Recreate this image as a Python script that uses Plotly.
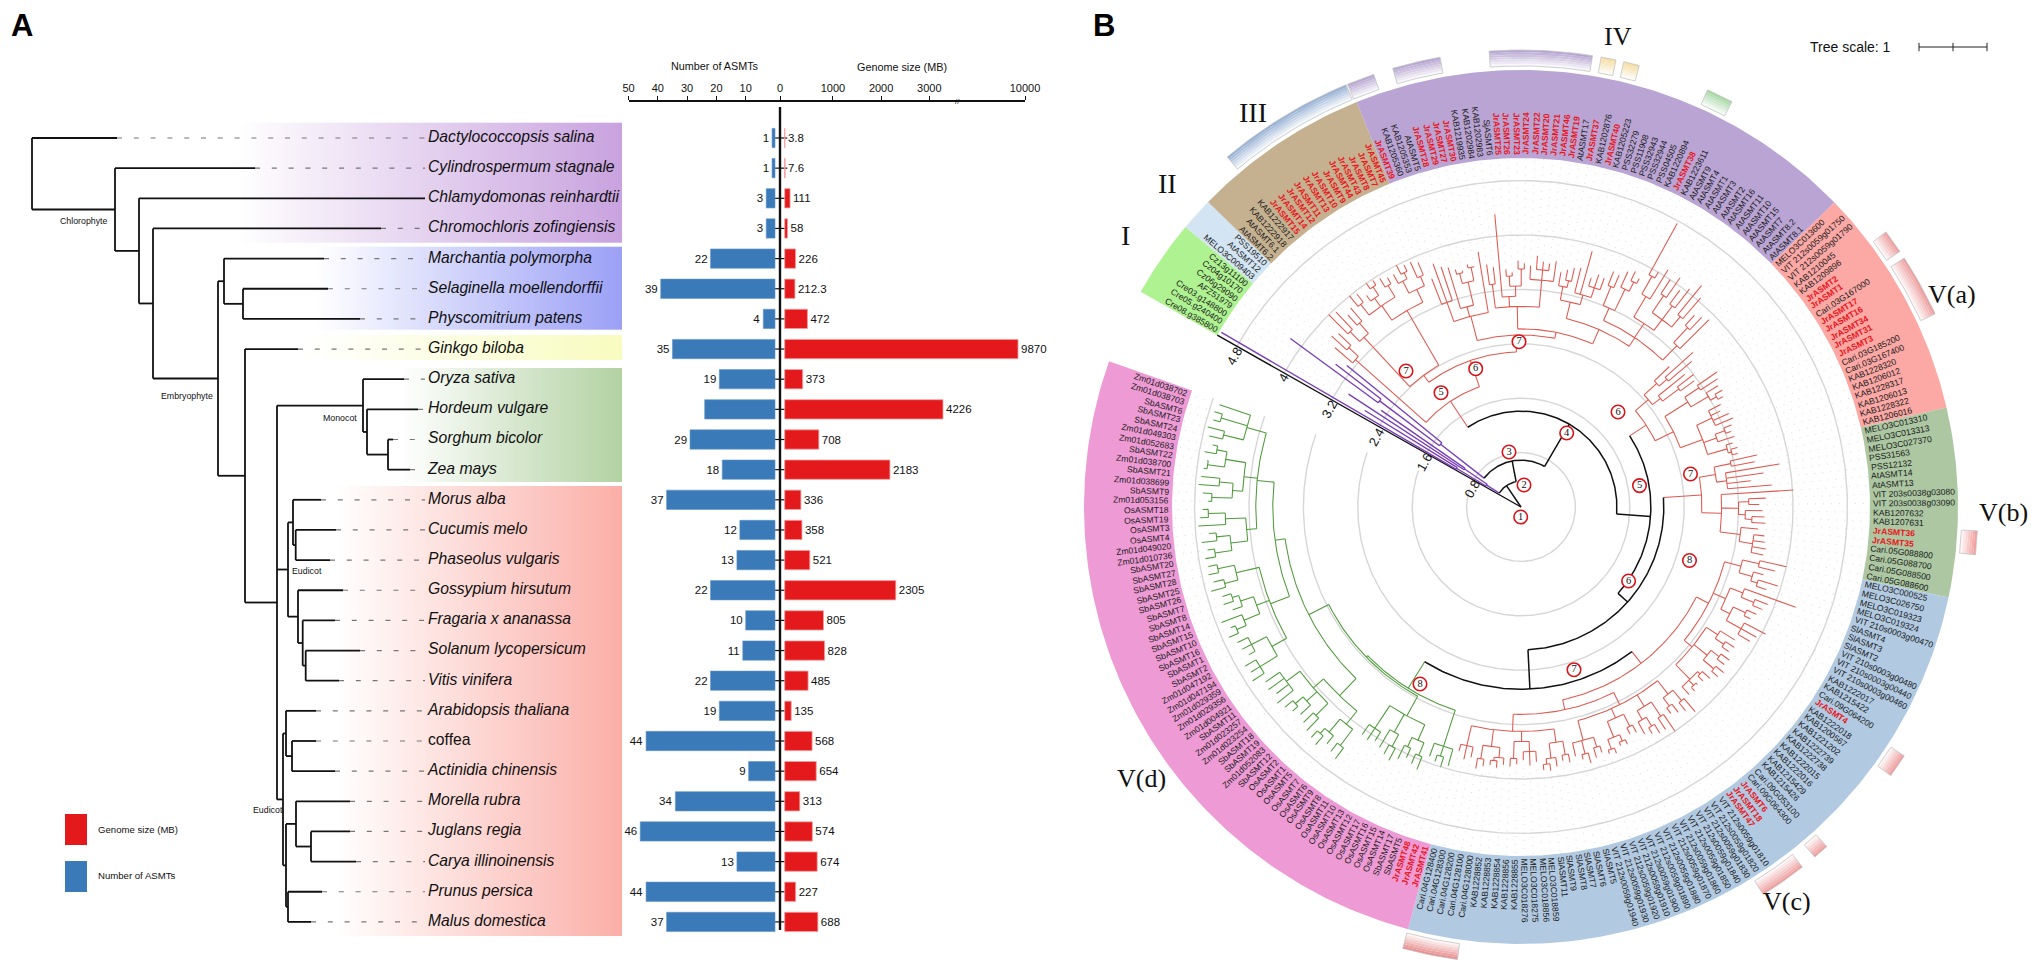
import math
import numpy as np
import plotly.graph_objects as go

W, H = 2033, 962
NARROW = "Liberation Sans, Arial"
SANS = "Liberation Sans, Arial"
SERIF = "Liberation Serif, Times New Roman"

# ---------- Panel A data ----------
species = ["Dactylococcopsis salina", "Cylindrospermum stagnale", "Chlamydomonas reinhardtii",
           "Chromochloris zofingiensis", "Marchantia polymorpha", "Selaginella moellendorffii",
           "Physcomitrium patens", "Ginkgo biloba", "Oryza sativa", "Hordeum vulgare",
           "Sorghum bicolor", "Zea mays", "Morus alba", "Cucumis melo", "Phaseolus vulgaris",
           "Gossypium hirsutum", "Fragaria x ananassa", "Solanum lycopersicum", "Vitis vinifera",
           "Arabidopsis thaliana", "coffea", "Actinidia chinensis", "Morella rubra", "Juglans regia",
           "Carya illinoinensis", "Prunus persica", "Malus domestica"]
asmt_count = [1, 1, 3, 3, 22, 39, 4, 35, 19, 24, 29, 18, 37, 12, 13, 22, 10, 11, 22, 19, 44, 9, 34, 46, 13, 44, 37]
asmt_label = ["1", "1", "3", "3", "22", "39", "4", "35", "19", "", "29", "18", "37", "12", "13", "22", "10",
              "11", "22", "19", "44", "9", "34", "46", "13", "44", "37"]
genome_size = [3.8, 7.6, 111, 58, 226, 212.3, 472, 9870, 373, 4226, 708, 2183, 336, 358, 521, 2305, 805, 828,
               485, 135, 568, 654, 313, 574, 674, 227, 688]
count_ticks = [50, 40, 30, 20, 10]
genome_ticks = [1000, 2000, 3000, 10000]

# species tree: [branch depth of the node, children...]; a float is the depth of a leaf
mono = [363, 404.0, [367, 418.0, [388, 393.0, 410.0]]]
eudicot1 = [288, [293, 321.0, [295.7, 336.0, 330.0]],
            [298, 343.0, [302.7, 335.0, [305.7, 360.0, 339.0]]]]
eudicot2 = [283, [286, 316.0, [292, 316.0, 335.0]],
            [286, [296, 350.0, [311, 350.0, 356.0]], [288, 322.0, 311.0]]]
species_tree = [32, 117.0, [115, 255.0, [139, 425.0, [153, 381.0, [218,
                [224, 324.0, [243, 328.0, 360.0]],
                [245, 298.0, [277, mono, eudicot1, eudicot2]]]]]]]

# ---------- Panel B data ----------
group_I = ["Cre08.g385800", "Cre05.g240400", "Cre03.g148800", "AFZ51979", "Cz06g29090", "Cz04g10170", "Cz13g11100"]
group_II = ["MELO3C009403", "AtASMT12", "PSS19510"]
group_III = ["AtASMT6.2", "AtASMT6.1", "KAB1222918", "KAB1222917", "JrASMT15", "JrASMT14", "JrASMT12", "JrASMT11",
             "JrASMT13", "JrASMT10", "JrASMT9", "JrASMT44", "JrASMT43", "JrASMT8", "JrASMT7", "JrASMT45"]
group_IV = ["JrASMT39", "KAB1205360", "KAB1205353", "AtASMT5", "JrASMT28", "JrASMT29", "JrASMT27", "JrASMT30",
            "KAB1219935", "KAB1202984", "KAB1202983", "SjASMT6", "JrASMT25", "JrASMT26", "JrASMT23", "JrASMT24",
            "JrASMT22", "JrASMT20", "JrASMT21", "JrASMT46", "JrASMT19", "AtASMT17", "JrASMT37", "KAB1202876",
            "JrASMT40", "KAB1205223", "PSS32279", "PSS11908", "PSS32943", "PSS32944", "PSS04505", "KAB1220894",
            "JrASMT38", "KAB1223611", "AtASMT9", "AtASMT4", "AtASMT1", "AtASMT3", "AtASMT2", "AtASMT16", "AtASMT11",
            "AtASMT10", "AtASMT15", "AtASMT7", "AtASMT8.2", "AtASMT8.1"]
group_Va = ["MELO3C013600", "VIT 212s0059g01750", "VIT 212s0059g01790", "KAB1210045", "KAB1209896", "JrASMT2",
            "JrASMT1", "Cari.03G167000", "JrASMT17", "JrASMT16", "JrASMT34", "JrASMT31", "JrASMT3", "Cari.03G185200",
            "Cari.03G167400", "KAB1228320", "KAB1206012", "KAB1228317", "KAB1206013", "KAB1228322", "KAB1206016"]
group_Vb = ["MELO3C013310", "MELO3C013313", "MELO3C027370", "PSS31563", "PSS12132", "AtASMT14", "AtASMT13",
            "VIT 203s0038g03080", "VIT 203s0038g03090", "KAB1207632", "KAB1207631", "JrASMT36", "JrASMT35",
            "Cari.05G088800", "Cari.05G088700", "Cari.05G088500", "Cari.05G088600"]
group_Vc = ["MELO3C000525", "MELO3C026750", "MELO3C019323", "MELO3C019324", "VIT 210s0003g00470", "SlASMT4", "SlASMT3",
            "SlASMT2", "VIT 210s0003g00480", "VIT 210s0003g00440", "VIT 210s0003g00460", "KAB1222017", "KAB1215422",
            "Cari.09G064200", "JrASMT4", "KAB1222018", "KAB1200567", "KAB1221202", "KAB1222739", "KAB1222738",
            "KAB1222015", "KAB1222016", "KAB1215429", "KAB1215426", "Cari.09G053100", "Cari.09G064300", "JrASMT6",
            "JrASMT18", "JrASMT47", "VIT 212s0059g01810", "VIT 212s0059g01820", "VIT 212s0059g01830",
            "VIT 212s0059g01840", "VIT 212s0059g01850", "VIT 212s0059g01860", "VIT 212s0059g01870",
            "VIT 212s0059g01880", "VIT 212s0059g01890", "VIT 212s0059g01900", "VIT 212s0059g01910",
            "VIT 212s0059g01920", "VIT 212s0059g01930", "VIT 212s0059g01940", "SlASMT5", "SlASMT6", "SlASMT7",
            "SlASMT8", "SlASMT9", "SlASMT11", "MELO3C018859", "MELO3C018856", "MELO3C018275", "MELO3C018276",
            "KAB1228855", "KAB1228856", "KAB1228854", "KAB1228853", "KAB1228852", "Cari.04G128000", "Cari.04G128100",
            "Cari.04G128200", "Cari.04G128300", "Cari.04G128400"]
group_Vd = ["JrASMT41", "JrASMT42", "JrASMT48", "SbASMT5", "SbASMT17", "OsASMT14", "OsASMT15", "OsASMT16", "OsASMT17",
            "OsASMT12", "OsASMT13", "OsASMT10", "OsASMT11", "OsASMT8", "OsASMT9", "OsASMT6", "OsASMT7", "OsASMT5",
            "OsASMT1", "OsASMT2", "SbASMT12", "Zm01d052083", "SbASMT19", "SbASMT18", "Zm01d023254", "Zm01d023257",
            "SbASMT11", "Zm01d004921", "Zm01d029356", "Zm01d029359", "Zm01d047194", "Zm01d047192", "SbASMT2", "SbASMT1",
            "SbASMT16", "SbASMT10", "SbASMT15", "SbASMT14", "SbASMT8", "SbASMT7", "SbASMT26", "SbASMT25", "SbASMT28",
            "SbASMT27", "SbASMT20", "Zm01d010736", "Zm01d049020", "OsASMT4", "OsASMT3", "OsASMT19", "OsASMT18",
            "Zm01d053156", "SbASMT9", "Zm01d038699", "SbASMT21", "Zm01d038700", "SbASMT22", "Zm01d052683",
            "Zm01d049303", "SbASMT24", "SbASMT23", "SbASMT6", "Zm01d038703", "Zm01d038702"]
groups = [group_I, group_II, group_III, group_IV, group_Va, group_Vb, group_Vc, group_Vd]
group_colors = ["#aff291", "#d3e4f3", "#c5b190", "#b9a4d4", "#fca8a5", "#acc7a2", "#b1c9e1", "#ee9bd5"]
ring_values = [0.8, 1.6, 2.4, 3.2, 4.0, 4.8]

PURPLE, RED, GREEN, BLACK = "#7a3fb8", "#e0584e", "#4e9a3a", "#111111"
clade_Ia = (PURPLE, [0.6, [1.1, 5.1, 2.7], [1.0, 3.03, 2.5]])
clade_Ib = (PURPLE, [1.5, [2.6, 4.2, 3.44], 3.3])
clade_II = [3.26, 3.6, [3.45, 3.75, 3.7]]
clade_III = [2.41, [3.4, [3.6, 4.0, 3.95], [3.6, 3.8, 3.85]],
             [3.34, [3.6, [3.8, 4.0, 3.95], [3.75, 3.85, [3.9, 4.0, 3.98]], [3.8, 3.95, 3.9]],
              [3.55, [3.75, 3.9, [3.85, 4.0, 3.95]], [3.7, 3.95, 3.9]]]]
iv_a = [2.9, [3.2, 3.6, 3.8, 3.72], [3.05, 3.68, [3.4, [3.55, 3.62, 3.58], [3.6, 3.65, 3.6]]], 3.8]
iv_b = [2.95, [3.3, 3.6, 3.55], [3.1, 4.32, [3.25, [3.4, 3.5, 3.45], [3.5, 3.62, 3.58]]],
        [3.35, 3.55, [3.5, 3.7, 3.62, 3.6], 3.65]]
iv_c = [3.1, [3.3, 3.5, [3.4, 3.55, 3.6]], [3.25, 3.62, 3.9, [3.4, 3.52, 3.6, 3.58]]]
iv_d = [3.0, [3.2, [3.5, 3.72, 3.7], [3.55, 3.8, [3.7, 3.85, 3.78]]],
        [3.25, [3.6, [3.9, 4.76, 4.0], 4.1], [3.45, [3.75, 4.0, 4.1], [3.7, 3.95, 4.05], [3.65, 4.2, 4.05]]],
        [3.3, [3.6, 3.8, 3.85], 3.9]]
clade_IV = [2.53, iv_a, [2.62, iv_b, [2.85, iv_c, iv_d]]]
clade_Va = (RED, [2.2, [2.45, [2.7, 3.0, [2.85, 3.4, 3.3]], [2.6, 3.1, [2.9, 3.2, 3.15]]],
                  [2.5, [2.9, [3.15, 3.5, 3.45], [3.2, 3.4, [3.3, 3.42, 3.38]]],
                   [2.85, [3.1, 3.3, 3.25, 3.35, 3.38], [3.05, [3.2, 3.32, 3.28], 3.3],
                    [3.15, 3.25, [3.2, 3.3, 3.28]]]]])
clade_Vb = (RED, [2.66, [2.9, [3.15, 3.55, 3.5], [3.05, 3.85, 3.6, 3.4, 3.7]],
                  [2.95, 4.01, [3.2, [3.35, 3.6, 3.5], [3.3, 3.55, [3.4, 3.58, 3.6]]],
                   [3.25, 3.5, [3.45, 3.6, 3.62, 3.65, 3.63]]]])
vc_a = [3.1, [3.35, [3.6, 4.0, 3.85], [3.55, 3.7, [3.65, 3.95, 3.8]]],
        [3.3, [3.5, 4.3, [3.7, 3.9, 3.85]], [3.45, [3.65, 3.8, 3.75], [3.7, 4.05, 3.95, 3.9]]],
        [3.25, [3.45, 3.7, [3.6, 3.75, 3.72]], [3.5, [3.65, 3.8, 3.78], [3.7, 3.85, 3.82]],
         [3.55, [3.6, 3.75, 3.7], [3.65, 3.68, 3.72], 3.7]]]
vc_b = [3.25, [3.5, [3.7, 3.95, 3.85], [3.65, 3.8, 3.75]], [3.45, [3.7, 4.0, 3.9], [3.6, [3.75, 3.9, 3.85], 3.8]],
        [3.4, [3.6, 3.72, 3.7], [3.65, [3.75, 3.82, 3.8], [3.8, 3.88, 3.85]]],
        [3.55, [3.7, 3.8, 3.85], [3.75, 3.9, 3.82], 3.75]]
vc_c = [3.3, [3.5, [3.7, 3.82, 3.78], [3.72, 3.85, [3.8, 3.9, 3.88]]], [3.45, [3.6, 3.75, 3.8, 3.72], [3.7, 3.78, 3.82]],
        [3.55, [3.7, 3.8, [3.75, 3.85, 3.82]], [3.75, 3.85, 3.9]], [3.6, 3.75, 3.8, 3.7]]
clade_Vc = (RED, [2.9, vc_a, [3.05, vc_b, vc_c]])
vd_a = [3.7, 3.95, [3.85, 4.0, 3.95], 3.9]
vd_b = [3.5, [3.75, [3.95, 4.15, 4.1], [3.9, 4.05, 4.12]], [3.8, [4.0, 4.2, 4.15], 4.1], [3.9, 4.05, 4.1, 4.08]]
vd_c = [3.85, [4.1, [4.4, 4.6, 4.55], [4.35, 4.5, [4.45, 4.62, 4.58]]],
        [4.05, [4.3, 4.55, 4.5], [4.25, 4.45, [4.4, 4.5, 4.55]], [4.3, 4.6, 4.52, 4.58, 4.55]]]
vd_d = [3.95, [4.2, [4.5, 4.7, 4.65, 4.68], [4.45, 4.55, 4.6, 4.62]],
        [4.15, [4.4, [4.55, 4.7, 4.62], 4.72], [4.35, 4.5, [4.45, 4.6, 4.58]]],
        [4.3, [4.5, 4.72, 4.65], [4.55, 4.7, 4.68]]]
vd_e = [3.9, [4.05, [4.3, [4.55, 4.7, 4.65], [4.5, 4.72, 4.6]], [4.35, 4.75, [4.6, 4.72, 4.68]]],
        [4.1, [4.25, [4.55, 4.6, 4.68], [4.45, 4.75, 4.72]], [4.4, [4.65, 4.7, 4.66], [4.55, 4.72, 4.62]]],
        [4.2, [4.5, 4.7, 4.75], [4.6, 4.7, 4.72], 4.68]]
clade_Vd = (GREEN, [3.14, vd_a, [3.17, vd_b, [3.5, vd_c, [3.65, vd_d, vd_e]]]])
gene_tree = [0.38, clade_Ia, [0.69, clade_Ib, [1.41,
             (RED, [1.87, clade_II, [2.28, clade_III, clade_IV]]),
             [1.91, clade_Va, [2.1, clade_Vb, [2.68, clade_Vc, clade_Vd]]]]]]

# outer annotation strips: start angle, end angle, colour
strips = [(130, 112.5, "#93aed3"), (112.3, 108.8, "#b4a2d0"), (106.3, 100.2, "#b4a2d0"), (94, 81, "#b4a2d0"),
          (79.9, 78, "#f5dca0"), (77, 75, "#f5dca0"), (65.9, 62.5, "#a3d6a0"), (37, 34, "#ee9a9a"), (33, 25, "#ee9a9a"),
          (-3, -6, "#f29a9a"), (-33, -36, "#ee9a9a"), (-48, -50, "#ee9a9a"), (-52, -58, "#ee9a9a"), (-98, -105, "#e88a8a")]

# ---------- scales ----------
ROW0, ROWSTEP = 138.0, 30.15
def row_of(py):
    return (py - ROW0) / ROWSTEP

CX, CY, UNIT = 1521.0, 507.0, 68.0
def ux(px):
    return (px - CX) / UNIT
def uy(py):
    return (CY - py) / UNIT
def polar(r, deg):
    a = math.radians(deg)
    return r * math.cos(a), r * math.sin(a)

BR_IN = [0, 3000, 4226, 9870, 10000]
BR_OUT = [0, 3000, 3284, 4840, 4985]
def genome_scale(v):
    return np.interp(v, BR_IN, BR_OUT)

fig = go.Figure()
annos = []
def note(text, px, py, size, family=NARROW, color="#111", angle=0, xanchor="center", bold=False):
    annos.append(dict(text=f"<b>{text}</b>" if bold else text, x=px, y=row_of(py), xref="x", yref="y",
                      showarrow=False, textangle=angle, xanchor=xanchor, yanchor="middle",
                      font=dict(size=size, family=family, color=color), borderpad=0))

# ---------- Panel A gradient bands ----------
bands = [(235, 122.7, 242.3, "#c9a3df"), (315, 246.7, 330, "#9ca1f6"), (300, 335, 360, "#f8fcc0"),
         (400, 368, 481.7, "#b3d2a3"), (335, 486, 936, "#fbafa8")]
for x0, top, bot, col in bands:
    n = 110
    edges = np.linspace(x0, 621.7, n + 1)
    fig.add_trace(go.Heatmap(x=edges, y=[row_of(top), row_of(bot)], z=[list(np.linspace(0, 1, n))],
                             colorscale=[[0, "#ffffff"], [1, col]], zmin=0, zmax=1, showscale=False, hoverinfo="skip"))

# ---------- Panel A tree ----------
tx, ty, dx, dy = [], [], [], []
leaf_i = [0]
def draw_species(node, parent_x):
    if isinstance(node, float):
        y = leaf_i[0]
        leaf_i[0] += 1
        tx.extend([parent_x, node, None]); ty.extend([y, y, None])
        if node < 424:
            dx.extend([node, 425, None]); dy.extend([y, y, None])
        return y
    x = node[0]
    ys = [draw_species(c, x) for c in node[1:]]
    tx.extend([x, x, None]); ty.extend([ys[0], ys[-1], None])
    mid = (ys[0] + ys[-1]) / 2
    if parent_x is not None:
        tx.extend([parent_x, x, None]); ty.extend([mid, mid, None])
    return mid
draw_species(species_tree, None)
fig.add_trace(go.Scatter(x=dx, y=dy, mode="lines", line=dict(color="#777", width=1.2, dash="5px,11.8px"), hoverinfo="skip"))
fig.add_trace(go.Scatter(x=tx, y=ty, mode="lines", line=dict(color="#111", width=1.8), hoverinfo="skip"))
rows = list(range(len(species)))
fig.add_trace(go.Scatter(x=[428] * len(species), y=rows, mode="text", text=species, textposition="middle right",
                         textfont=dict(size=15.7, family=NARROW, color="#111",
                                       style=["normal" if s == "coffea" else "italic" for s in species]),
                         hoverinfo="skip"))
for t, px, py in [("Chlorophyte", 84, 221), ("Embryophyte", 187, 396), ("Monocot", 340, 418),
                  ("Eudicot", 307, 571), ("Eudicot", 268, 810)]:
    note(t, px, py, 8.8)

# central axis with row ticks
fig.add_trace(go.Scatter(x=[780, 780], y=[row_of(107), row_of(930)], mode="lines", line=dict(color="#111", width=2.4), hoverinfo="skip"))
fig.add_trace(go.Scatter(x=[781] * len(rows), y=rows, mode="markers",
                         marker=dict(symbol="line-ew", size=9, line=dict(color="#111", width=1.2)), hoverinfo="skip"))

# ---------- Panel A bars ----------
fig.add_trace(go.Bar(y=rows, x=asmt_count, orientation="h", xaxis="x2", yaxis="y", width=0.64,
                     marker=dict(color="#3a7ab8", line=dict(color="#5f96c8", width=0.6)), text=asmt_label,
                     textposition="outside", textangle=0, constraintext="none", cliponaxis=False,
                     textfont=dict(size=11.5, family=NARROW, color="#111"), hoverinfo="skip"))
fig.add_trace(go.Bar(y=rows, x=genome_scale(genome_size), orientation="h", xaxis="x3", yaxis="y", width=0.64,
                     marker=dict(color="#e3191c", line=dict(color="#f3a0a0", width=0.8)),
                     text=[str(v) for v in genome_size], textposition="outside", textangle=0, constraintext="none",
                     cliponaxis=False, textfont=dict(size=11.5, family=NARROW, color="#111"), hoverinfo="skip"))

note("Number of ASMTs", 715, 66, 10.8)
note("Genome size (MB)", 902, 66.7, 10.8)
note("//", 957, 101, 8)
shapes = [dict(type="rect", xref="x", yref="y", x0=65, x1=87, y0=row_of(814), y1=row_of(845), fillcolor="#e3191c", line_width=0, layer="above"),
          dict(type="rect", xref="x", yref="y", x0=65, x1=87, y0=row_of(861), y1=row_of(892), fillcolor="#3a7ab8", line_width=0, layer="above")]
note("Genome size (MB)", 97, 829, 9.6, xanchor="left")
note("Number of ASMTs", 97, 875, 9.6, xanchor="left")
note("A", 22, 25, 31, family=SANS, bold=True, color="#000")
note("B", 1104, 25, 31, family=SANS, bold=True, color="#000")

# ---------- Panel B geometry ----------
R_IN, R_OUT = 349 / UNIT, 437 / UNIT
START, GAP = 150.5, 10.0
leaves = [name for g in groups for name in g]
N = len(leaves)
STEP = (360.0 - GAP) / N
def leaf_edge(i):
    return START - i * STEP
def leaf_angle(i):
    return START - (i + 0.5) * STEP
def arc_xy(r, a0, a1):
    n = max(2, int(abs(a1 - a0) / 0.8) + 2)
    pts = [polar(r, a) for a in np.linspace(a0, a1, n)]
    return [p[0] for p in pts], [p[1] for p in pts]
def sector(r0, r1, a0, a1, color, line=None, width=0):
    x0, y0 = arc_xy(r1, a0, a1)
    x1, y1 = arc_xy(r0, a1, a0)
    fig.add_trace(go.Scatter(x=x0 + x1 + x0[:1], y=y0 + y1 + y0[:1], mode="lines", fill="toself", fillcolor=color,
                             line=dict(color=line or color, width=width), xaxis="x4", yaxis="y2", hoverinfo="skip"))

i0 = 0
for g, col in zip(groups, group_colors):
    sector(R_IN, R_OUT, leaf_edge(i0), leaf_edge(i0 + len(g)), col)
    i0 += len(g)

def mix(col, t):
    r, g, b = int(col[1:3], 16), int(col[3:5], 16), int(col[5:7], 16)
    return "rgb(%d,%d,%d)" % (255 + (r - 255) * t, 255 + (g - 255) * t, 255 + (b - 255) * t)
S_IN, S_OUT = 441 / UNIT, 457 / UNIT
for a0, a1, col in strips:
    n = 7
    for k in range(n):
        sector(S_IN + (S_OUT - S_IN) * k / n, S_IN + (S_OUT - S_IN) * (k + 1) / n, a0, a1, mix(col, (k + 0.6) / n))
    xa, ya = arc_xy(S_OUT, a0, a1)
    xb, yb = arc_xy(S_IN, a1, a0)
    fig.add_trace(go.Scatter(x=xa + xb + xa[:1], y=ya + yb + ya[:1], mode="lines", line=dict(color="#c4c4c4", width=0.8),
                             xaxis="x4", yaxis="y2", hoverinfo="skip"))

# rings
rx, ry = [], []
for v in ring_values:
    xa, ya = arc_xy(v, START, START - 350)
    rx += xa + [None]; ry += ya + [None]
fig.add_trace(go.Scatter(x=rx, y=ry, mode="lines", line=dict(color="#d6d6d6", width=1.4), xaxis="x4", yaxis="y2", hoverinfo="skip"))
ax_x, ax_y = polar(R_IN, START)
fig.add_trace(go.Scatter(x=[0, ax_x], y=[0, ax_y], mode="lines", line=dict(color="#111", width=1.4), xaxis="x4", yaxis="y2", hoverinfo="skip"))

# tree
segs = {}
leader_x, leader_y = [], []
counter = [0]
def add(color, xs, ys):
    s = segs.setdefault(color, ([], []))
    s[0].extend(list(xs) + [None]); s[1].extend(list(ys) + [None])
def draw_gene(node, parent_r, color):
    if isinstance(node, tuple):
        color, node = node
    if isinstance(node, float):
        a = leaf_angle(counter[0])
        counter[0] += 1
        p0, p1 = polar(parent_r, a), polar(node, a)
        add(color, [p0[0], p1[0]], [p0[1], p1[1]])
        p2 = polar(R_IN, a)
        leader_x.extend([p1[0], p2[0], None]); leader_y.extend([p1[1], p2[1], None])
        return a
    r = node[0]
    angs = [draw_gene(c, r, color) for c in node[1:]]
    xa, ya = arc_xy(r, angs[0], angs[-1])
    add(color, xa, ya)
    a = (angs[0] + angs[-1]) / 2
    p0, p1 = polar(parent_r, a), polar(r, a)
    add(color, [p0[0], p1[0]], [p0[1], p1[1]])
    return a
draw_gene(gene_tree, 0.0, BLACK)
if counter[0] != N:
    raise SystemExit(f"tree leaves {counter[0]} vs labels {N}")
fig.add_trace(go.Scatter(x=leader_x, y=leader_y, mode="lines", line=dict(color="#d8d8d8", width=0.9, dash="1px,7px"),
                         xaxis="x4", yaxis="y2", hoverinfo="skip"))
widths = {BLACK: 1.5, PURPLE: 1.4, RED: 1.05, GREEN: 1.05}
for col, (xs, ys) in segs.items():
    fig.add_trace(go.Scatter(x=xs, y=ys, mode="lines", line=dict(color=col, width=widths[col]), xaxis="x4", yaxis="y2", hoverinfo="skip"))

# leaf labels
CW = {"M": .83, "E": .67, "L": .56, "O": .78, "C": .72, "K": .67, "A": .67, "B": .67, "V": .67, "I": .28, "T": .61, "P": .67,
      "S": .67, "G": .78, "Z": .61, "J": .5, "F": .61, "r": .33, "t": .28, "s": .5, "m": .83, "d": .56, "b": .56, "a": .56,
      "i": .22, "z": .5, "e": .56, "g": .56, "l": .22, "j": .22, " ": .28, ".": .28}
def text_w(s, size, bold):
    return sum(CW.get(c, .556) for c in s) * size * (1.07 if bold else 1.0)
FS = 8.6
for i, name in enumerate(leaves):
    a = leaf_angle(i)
    red = name.startswith("JrASMT")
    w = text_w(name, FS, red)
    cx, cy = polar((352 + w / 2) / UNIT, a)
    norm = (a + 360) % 360
    ta = -a if (norm <= 90 or norm >= 270) else 180 - a
    annos.append(dict(text=f"<b>{name}</b>" if red else name, x=cx, y=cy, xref="x4", yref="y2", showarrow=False, textangle=ta,
                      xanchor="center", yanchor="middle", borderpad=0,
                      font=dict(size=FS, family=SANS, color="#e8161c" if red else "#1a1a1a")))

# ring tick labels
for v, (px, py) in zip(ring_values, [(1471.7, 489), (1424, 462), (1376, 437), (1329, 409), (1283, 378), (1234, 356)]):
    annos.append(dict(text=str(v if v != 4.0 else 4), x=ux(px), y=uy(py), xref="x4", yref="y2", showarrow=False, textangle=-60.5,
                      font=dict(size=13, family=SANS, color="#111")))

# node markers
node_marks = [("1", 1520.7, 517), ("2", 1524, 485), ("3", 1509, 452), ("4", 1566.7, 433), ("5", 1639.5, 485.6), ("6", 1618, 412),
              ("6", 1628.6, 581), ("7", 1574, 669.7), ("7", 1690.5, 474), ("8", 1689.5, 560.5), ("8", 1420, 684), ("5", 1441, 392.7),
              ("6", 1475.7, 368.7), ("7", 1519, 341.7), ("7", 1406, 371)]
fig.add_trace(go.Scatter(x=[ux(m[1]) for m in node_marks], y=[uy(m[2]) for m in node_marks], mode="markers+text",
                         text=[m[0] for m in node_marks], textposition="middle center",
                         textfont=dict(size=10.5, family=SERIF, color="#111"),
                         marker=dict(size=13.5, color="white", line=dict(color="#d8141a", width=1.6)),
                         xaxis="x4", yaxis="y2", hoverinfo="skip"))

# tree scale
sx0 = ux(1919); sy = uy(47)
fig.add_trace(go.Scatter(x=[sx0, sx0 + 0.5, sx0 + 1], y=[sy] * 3, mode="lines+markers", line=dict(color="#222", width=1),
                         marker=dict(symbol="line-ns", size=6, line=dict(color="#222", width=1)), xaxis="x4", yaxis="y2", hoverinfo="skip"))
note("Tree scale: 1", 1809, 47, 14, family=SANS, xanchor="left")
for t, px, py, sz in [("I", 1125, 235, 28), ("II", 1167, 183, 28), ("III", 1253, 112, 28), ("IV", 1618, 36, 26),
                      ("V(a)", 1952, 294, 26), ("V(b)", 2003, 512, 26), ("V(c)", 1787, 901, 26), ("V(d)", 1141, 778, 26)]:
    note(t, px, py, sz, family=SERIF)

hidden = dict(visible=False, showgrid=False, zeroline=False, fixedrange=True)
ax_top = 1 - 101 / H
tick_font = dict(size=11, family=NARROW, color="#111")
def axis_top(domain, rng, vals, text):
    return dict(domain=domain, range=rng, anchor="free", position=ax_top, side="top", showline=True, linecolor="#111", linewidth=1.5,
                ticks="outside", ticklen=4, tickcolor="#111", tickwidth=1.2, tickmode="array", tickvals=vals, ticktext=text,
                tickfont=tick_font, showgrid=False, zeroline=False, fixedrange=True, tickangle=0, automargin=False)
fig.update_layout(
    width=W, height=H, margin=dict(l=0, r=0, t=0, b=0, autoexpand=False), autosize=False, paper_bgcolor="white", plot_bgcolor="rgba(0,0,0,0)",
    showlegend=False, barmode="overlay", annotations=annos, shapes=shapes,
    xaxis=dict(domain=[0, 1], range=[0, W], anchor="y", **hidden),
    yaxis=dict(domain=[0, 1], range=[row_of(H), row_of(0)], anchor="x", **hidden),
    xaxis2=axis_top([628.5 / W, 780 / W], [50, -1.706], count_ticks, [str(v) for v in count_ticks]),
    xaxis3=axis_top([780 / W, 1025 / W], [-97.5, 4985], [-97.5] + [float(genome_scale(v)) for v in genome_ticks],
                    ["0"] + [str(v) for v in genome_ticks]),
    xaxis4=dict(domain=[0, 1], range=[ux(0), ux(W)], anchor="y2", **hidden),
    yaxis2=dict(domain=[0, 1], range=[uy(H), uy(0)], anchor="x4", **hidden),
)
fig.write_html("out.html", config=dict(displayModeBar=False), post_script="document.body.style.margin='0';")
